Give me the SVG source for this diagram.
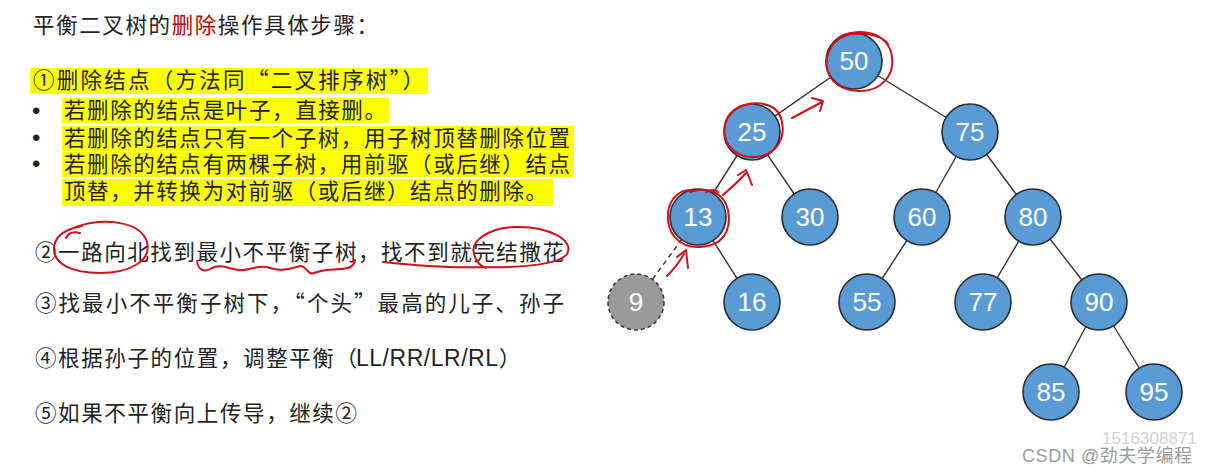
<svg xmlns="http://www.w3.org/2000/svg" width="1208" height="475" viewBox="0 0 1208 475">
<style>
.t{font-family:"Noto Sans CJK SC","Liberation Sans",sans-serif;font-size:21.5px;fill:#222}
.lat{font-family:"Liberation Sans",sans-serif;font-size:23px}
.bul{font-family:"Liberation Sans",sans-serif;font-size:24px;fill:#222}
.hl{fill:#ffff00}
.nd{fill:#5b9bd5;stroke:#2b2b2b;stroke-width:1.6}
.nl{font-family:"Liberation Sans",Arial,sans-serif;font-size:26px;fill:#fff;text-anchor:middle}
.ed{stroke:#333;stroke-width:1.4;fill:none}
.red{stroke:#d0101a;stroke-width:2;fill:none;stroke-linecap:round;stroke-linejoin:round}
</style>
<rect width="1208" height="475" fill="#fff"/>
<!-- left text -->
<g id="steps">
<text class="t" x="33" y="33" textLength="345">平衡二叉树的<tspan fill="#c00000">删除</tspan>操作具体步骤：</text>
<rect class="hl" x="30" y="68" width="398" height="26"/>
<rect class="hl" x="62" y="98" width="327" height="25"/>
<rect class="hl" x="62" y="126" width="512" height="25"/>
<rect class="hl" x="62" y="152" width="512" height="25"/>
<rect class="hl" x="62" y="179" width="491" height="27"/>
<text class="t" x="33" y="88" textLength="391">①删除结点（方法同“二叉排序树”）</text>
<text class="bul" x="32" y="119">•</text>
<text class="bul" x="32" y="146">•</text>
<text class="bul" x="32" y="172">•</text>
<text class="t" x="64" y="118" textLength="322">若删除的结点是叶子，直接删。</text>
<text class="t" x="64" y="146" textLength="506">若删除的结点只有一个子树，用子树顶替删除位置</text>
<text class="t" x="64" y="172" textLength="506">若删除的结点有两棵子树，用前驱（或后继）结点</text>
<text class="t" x="64" y="199" textLength="483">顶替，并转换为对前驱（或后继）结点的删除。</text>
<text class="t" x="35" y="260" textLength="529">②一路向北找到最小不平衡子树，找不到就完结撒花</text>
<text class="t" x="35" y="311" textLength="529">③找最小不平衡子树下，“个头”最高的儿子、孙子</text>
<text class="t" x="35" y="366"><tspan textLength="322">④根据孙子的位置，调整平衡（</tspan><tspan class="lat" x="356" textLength="142">LL/RR/LR/RL</tspan><tspan x="499">）</tspan></text>
<text class="t" x="35" y="421" textLength="322">⑤如果不平衡向上传导，继续②</text>
</g>
<!-- connectors -->
<g id="connectors">
<line class="ed" x1="854" y1="61" x2="752" y2="132"/>
<line class="ed" x1="854" y1="61" x2="970" y2="132"/>
<line class="ed" x1="752" y1="132" x2="698" y2="217"/>
<line class="ed" x1="752" y1="132" x2="810" y2="217"/>
<line class="ed" x1="970" y1="132" x2="922" y2="217"/>
<line class="ed" x1="970" y1="132" x2="1033" y2="217"/>
<line class="ed" x1="698" y1="217" x2="752" y2="302"/>
<line class="ed" x1="698" y1="217" x2="636" y2="302" stroke-dasharray="5,4"/>
<line class="ed" x1="922" y1="217" x2="867" y2="302"/>
<line class="ed" x1="1033" y1="217" x2="983" y2="302"/>
<line class="ed" x1="1033" y1="217" x2="1099" y2="302"/>
<line class="ed" x1="1099" y1="302" x2="1051" y2="392"/>
<line class="ed" x1="1099" y1="302" x2="1154" y2="392"/>
</g>
<!-- nodes -->
<g id="n50"><circle class="nd" cx="854" cy="61" r="28"/><text class="nl" x="854" y="70">50</text></g>
<g id="n25"><circle class="nd" cx="752" cy="132" r="28"/><text class="nl" x="752" y="141">25</text></g>
<g id="n75"><circle class="nd" cx="970" cy="132" r="28"/><text class="nl" x="970" y="141">75</text></g>
<g id="n13"><circle class="nd" cx="698" cy="217" r="28"/><text class="nl" x="698" y="226">13</text></g>
<g id="n30"><circle class="nd" cx="810" cy="217" r="28"/><text class="nl" x="810" y="226">30</text></g>
<g id="n60"><circle class="nd" cx="922" cy="217" r="28"/><text class="nl" x="922" y="226">60</text></g>
<g id="n80"><circle class="nd" cx="1033" cy="217" r="28"/><text class="nl" x="1033" y="226">80</text></g>
<g id="n9"><circle cx="636" cy="302" r="28" fill="#9a9a9a" stroke="#3a3a3a" stroke-width="1.6" stroke-dasharray="4,3"/><text class="nl" x="636" y="311">9</text></g>
<g id="n16"><circle class="nd" cx="752" cy="302" r="28"/><text class="nl" x="752" y="311">16</text></g>
<g id="n55"><circle class="nd" cx="867" cy="302" r="28"/><text class="nl" x="867" y="311">55</text></g>
<g id="n77"><circle class="nd" cx="983" cy="302" r="28"/><text class="nl" x="983" y="311">77</text></g>
<g id="n90"><circle class="nd" cx="1099" cy="302" r="28"/><text class="nl" x="1099" y="311">90</text></g>
<g id="n85"><circle class="nd" cx="1051" cy="392" r="28"/><text class="nl" x="1051" y="401">85</text></g>
<g id="n95"><circle class="nd" cx="1154" cy="392" r="28"/><text class="nl" x="1154" y="401">95</text></g>
<!-- red hand annotations -->
<g id="annotations">
<path class="red" d="M838,38 C856,28 884,30 891,52 C897,76 880,92 858,91 C836,90 824,76 827,58 C829,46 838,36 852,34 C868,33 882,36 888,44"/>
<path class="red" d="M735,110 C748,100 775,100 781,118 C787,138 776,156 755,157 C733,158 722,142 725,125 C727,112 740,104 752,104"/>
<path class="red" d="M690,192 C706,186 724,192 728,210 C732,232 722,246 700,247 C678,248 666,232 668,212 C670,198 680,190 690,190 M706,192 C712,189 716,190 718,192"/>
<path class="red" d="M792,118 L822,102 M812,98 L823,101 L820,111"/>
<path class="red" d="M723,195 C731,188 740,180 746,173 M738,175 L746,170 L752,185"/>
<path class="red" d="M667,276 C673,270 680,261 684,254 M677,257 L686,250 L688,268"/>
<path class="red" d="M66,238 Q70,230 80,233 M76,227 C102,218 140,220 147,242 C152,262 128,273 100,273 C72,273 54,264 54,249 C54,236 66,229 82,226"/>
<path class="red" d="M197,261 C198,270 204,273 212,268 C222,263 230,270 240,270 C252,270 260,264 270,268 C282,272 292,268 300,266 C306,265 308,276 314,273 C326,268 340,270 348,268 C352,267 355,263 355,260"/>
<path class="red" d="M383,262 C420,266 455,268 482,267 C525,268 560,264 567,254 C575,240 548,226 515,227 C490,228 470,240 474,254 C476,262 480,266 486,268"/>
</g>
<!-- watermark -->
<text x="1102" y="444" font-family="Liberation Sans,sans-serif" font-size="17" fill="#d2d2d2" textLength="95">1516308871</text>
<text x="1022" y="462" font-family="Liberation Sans,'Noto Sans CJK SC',sans-serif" font-size="18" fill="#9a9a9a" textLength="170">CSDN @劲夫学编程</text>
</svg>
